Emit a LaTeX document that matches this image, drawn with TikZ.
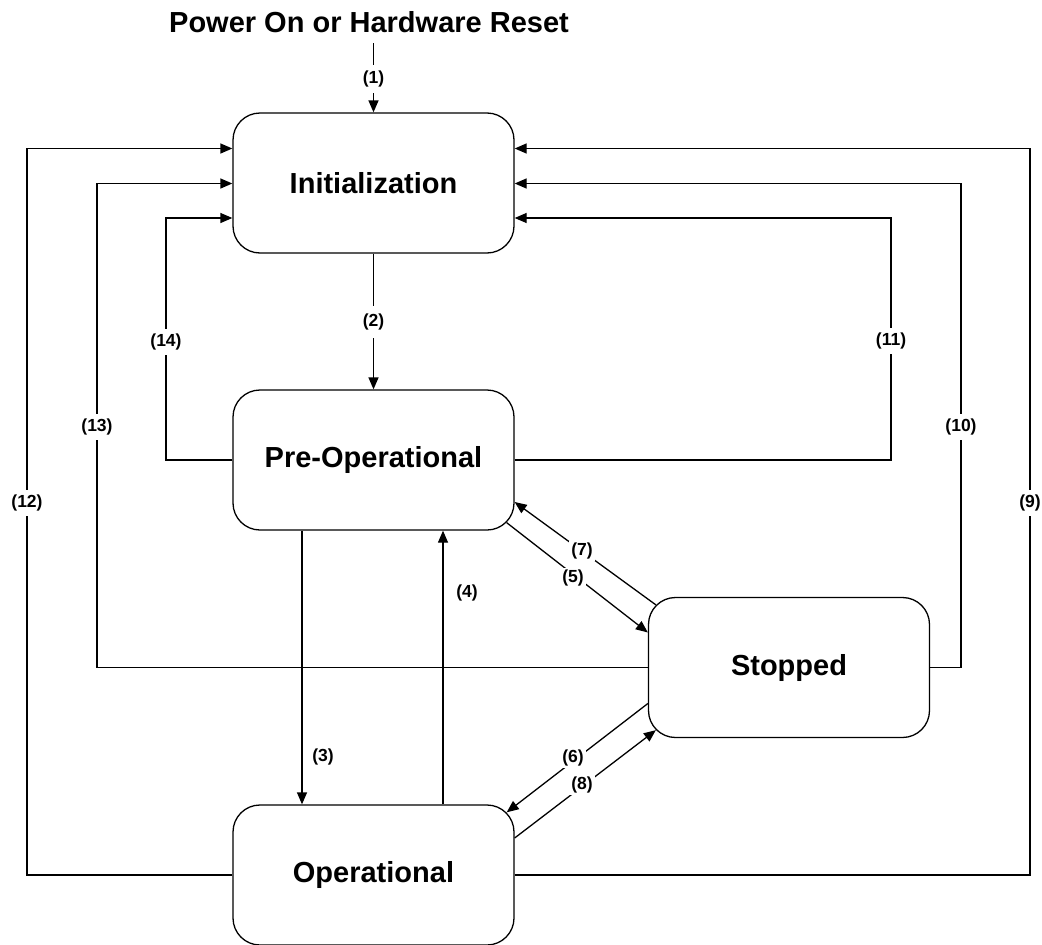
\documentclass[tikz,border=0pt]{standalone}
\usepackage{fontspec}
\setmainfont{Liberation Sans}
\usetikzlibrary{arrows.meta,calc}
\tikzset{
  state/.style={draw, line width=1.3pt, rounded corners=27pt, minimum width=281pt, minimum height=140pt, font=\fontsize{29}{32}\selectfont\bfseries, inner sep=0pt},
  conn/.style={line width=1.3pt},
  arr/.style={conn, -{Triangle[length=12pt,width=10pt]}},
  lbl/.style={fill=white, inner sep=2pt, font=\fontsize{17.5}{19}\selectfont\bfseries},
  lblc/.style={inner sep=0pt, font=\fontsize{17.5}{19}\selectfont\bfseries},
}
\begin{document}
\begin{tikzpicture}[x=1pt,y=-1pt]
\useasboundingbox (0,0) rectangle (1042,945);
\node[inner sep=0pt, font=\fontsize{29}{32}\selectfont\bfseries] (title) at (369,22) {Power On or Hardware Reset};
\node[state] (init) at (373.5,183) {Initialization};
\node[state] (preop) at (373.5,460) {Pre-Operational};
\node[state] (stopped) at (789,667.5) {Stopped};
\node[state] (oper) at (373.5,875) {Operational};
\coordinate (c1) at (373.5,43);
% (1)
\draw[arr] (c1) -- (init.north);
\node[lbl, inner sep=6pt] (l1) at (373.5,79) {(1)};
% (2)
\draw[arr] (init.south) -- (preop.north);
\node[lbl, inner sep=8pt] (l2) at (373.5,322) {(2)};
% (3),(4)
\draw[arr] (preop.south -| 302,0) -- (oper.north -| 302,0);
\node[lblc] (l3) at (323,757) {(3)};
\draw[arr] (oper.north -| 443,0) -- (preop.south -| 443,0);
\node[lblc] (l4) at (467,593) {(4)};
% (5),(7)
\draw[arr] ($(preop.south east)+(-8,-8)$) -- ($(stopped.west)+(0,-35)$);
\draw[arr] ($(stopped.north west)+(8,8)$) -- ($(preop.east)+(0,42)$);
\node[lbl] (l7) at (582,551) {(7)};
\node[lbl] (l5) at (573,578) {(5)};
% (6),(8)
\draw[arr] ($(stopped.west)+(0,36)$) -- ($(oper.north east)+(-8,8)$);
\draw[arr] ($(oper.east)+(0,-37)$) -- ($(stopped.south west)+(8,-8)$);
\node[lbl] (l6) at (573,758) {(6)};
\node[lbl] (l8) at (582,785) {(8)};
% return paths
\coordinate (r14) at (166,218);
\coordinate (r13) at (97,183.5);
\coordinate (r12) at (27,148.5);
\coordinate (r11) at (891,218);
\coordinate (r10) at (961,183.5);
\coordinate (r9) at (1030,148.5);
\draw[arr] (preop.west) -| (r14) -- (r14 -| init.west);
\draw[arr] (stopped.west) -| (r13) -- (r13 -| init.west);
\draw[arr] (oper.west) -| (r12) -- (r12 -| init.west);
\draw[arr] (preop.east) -| (r11) -- (r11 -| init.east);
\draw[arr] (stopped.east) -| (r10) -- (r10 -| init.east);
\draw[arr] (oper.east) -| (r9) -- (r9 -| init.east);
\node[lbl, inner sep=5pt] (l14) at (166,342) {(14)};
\node[lbl, inner sep=5pt] (l13) at (97,427) {(13)};
\node[lbl, inner sep=5pt] (l12) at (27,503) {(12)};
\node[lbl, inner sep=5pt] (l11) at (891,341) {(11)};
\node[lbl, inner sep=5pt] (l10) at (961,427) {(10)};
\node[lbl, inner sep=5pt] (l9) at (1030,503) {(9)};
\end{tikzpicture}
\end{document}
